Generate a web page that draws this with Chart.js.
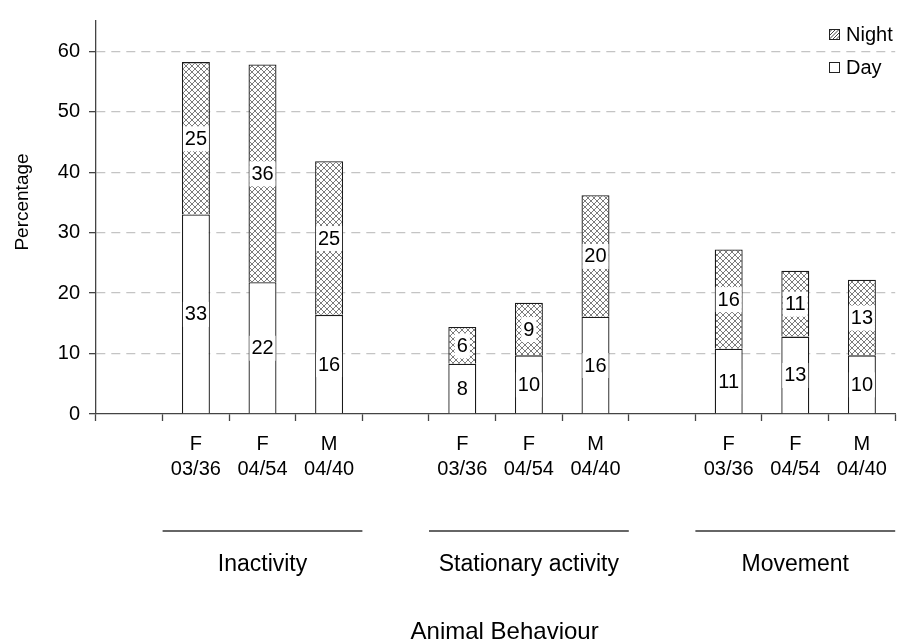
<!DOCTYPE html>
<html><head><meta charset="utf-8">
<script src="https://cdn.jsdelivr.net/npm/chart.js@4/dist/chart.umd.min.js"></script>
<style>html,body{margin:0;padding:0;background:#fff;overflow:hidden}#wrap{position:relative;width:898px;height:643px}</style>
</head><body><div id="wrap"><canvas id="c"></canvas></div>
<script>
// ---- data ----
const categories = [[''], ['F','03/36'], ['F','04/54'], ['M','04/40'], [''], ['F','03/36'], ['F','04/54'], ['M','04/40'], [''], ['F','03/36'], ['F','04/54'], ['M','04/40']];
const dayValues   = [null, 33.0, 21.8, 16.4, null, 8.3, 9.7, 16.1, null, 10.8, 12.8, 9.7];
const nightValues = [null, 25.2, 36.0, 25.4, null, 6.1, 8.7, 20.1, null, 16.4, 10.9, 12.5];
const groupNames = ['Inactivity', 'Stationary activity', 'Movement'];
const groupMembers = [[1,2,3], [5,6,7], [9,10,11]];
const yTickValues = [0, 10, 20, 30, 40, 50, 60];
const xTitle = 'Animal Behaviour';
const yTitle = 'Percentage';

const FONT = "'Liberation Sans', Arial, Helvetica, sans-serif";
Chart.defaults.font.family = FONT;
Chart.defaults.color = '#000';

function makePattern() {
  const t = document.createElement('canvas');
  t.width = 6; t.height = 6;
  const g = t.getContext('2d');
  g.fillStyle = '#ffffff'; g.fillRect(0, 0, 6, 6);
  g.fillStyle = '#7c7c7c';
  for (let i = 0; i < 6; i++) { g.fillRect(i, i, 1, 1); g.fillRect(5 - i, i, 1, 1); }
  return g.createPattern(t, 'repeat');
}
const nightFill = makePattern();

const labelPlugin = {
  id: 'segLabels',
  afterDatasetsDraw(chart) {
    const ctx = chart.ctx;
    ctx.save();
    ctx.font = '20px ' + FONT;
    ctx.textAlign = 'center';
    ctx.textBaseline = 'middle';
    chart.data.datasets.forEach((ds, di) => {
      const meta = chart.getDatasetMeta(di);
      meta.data.forEach((el, i) => {
        const v = ds.data[i];
        if (v === null || v === undefined) return;
        const txt = String(Math.round(v));
        const cy = (el.y + el.base) / 2;
        const w = Math.min(ctx.measureText(txt).width + 4, el.width - 2);
        ctx.fillStyle = '#fff';
        ctx.fillRect(el.x - w / 2, cy - 12, w, 25);
        ctx.fillStyle = '#000';
        ctx.fillText(txt, el.x, cy + 1);
      });
    });
    ctx.restore();
  }
};

const annoPlugin = {
  id: 'annos',
  afterDraw(chart) {
    const ctx = chart.ctx;
    const xs = chart.scales.x;
    const ca = chart.chartArea;
    const catW = xs.getPixelForValue(1) - xs.getPixelForValue(0);
    ctx.save();
    // group lines and labels
    groupMembers.forEach((m, gi) => {
      const cx = xs.getPixelForValue(m[1]);
      ctx.strokeStyle = '#333';
      ctx.lineWidth = 1.5;
      ctx.beginPath();
      ctx.moveTo(cx - 1.5 * catW, 531);
      ctx.lineTo(cx + 1.5 * catW, 531);
      ctx.stroke();
      ctx.fillStyle = '#000';
      ctx.font = '23px ' + FONT;
      ctx.textAlign = 'center';
      ctx.textBaseline = 'middle';
      ctx.fillText(groupNames[gi], cx, 565);
    });
    // x title
    ctx.font = '24px ' + FONT;
    ctx.fillText(xTitle, (ca.left + ca.right) / 2 + 9, 632);
    // y title
    ctx.save();
    ctx.translate(23, 202);
    ctx.rotate(-Math.PI / 2);
    ctx.font = '19px ' + FONT;
    ctx.fillText(yTitle, 0, 0);
    ctx.restore();
    // legend (reverse order: Night, Day)
    const items = chart.data.datasets.slice().reverse();
    items.forEach((ds, k) => {
      const y = 34.5 + k * 33;
      const bx = 829, bs = 11;
      ctx.fillStyle = '#fff';
      ctx.fillRect(bx, y - bs / 2, bs, bs);
      if (ds.backgroundColor !== '#ffffff') {
        ctx.save();
        ctx.beginPath();
        ctx.rect(bx, y - bs / 2, bs, bs);
        ctx.clip();
        ctx.strokeStyle = '#444';
        ctx.lineWidth = 1;
        for (let d = -bs; d < bs * 2; d += 3.5) {
          ctx.beginPath();
          ctx.moveTo(bx + d, y + bs / 2);
          ctx.lineTo(bx + d + bs, y - bs / 2);
          ctx.stroke();
        }
        ctx.restore();
      }
      ctx.strokeStyle = '#222';
      ctx.lineWidth = 1;
      ctx.strokeRect(bx + 0.5, y - bs / 2 + 0.5, bs - 1, bs - 1);
      ctx.fillStyle = '#000';
      ctx.font = '20px ' + FONT;
      ctx.textAlign = 'left';
      ctx.textBaseline = 'middle';
      ctx.fillText(ds.label, 846, y + 1);
    });
    ctx.restore();
  }
};

new Chart(document.getElementById('c'), {
  type: 'bar',
  data: {
    labels: categories,
    datasets: [
      { label: 'Day', data: dayValues, backgroundColor: '#ffffff', borderColor: '#1a1a1a', borderWidth: 1.3, stack: 's' },
      { label: 'Night', data: nightValues, backgroundColor: nightFill, borderColor: '#1a1a1a', borderWidth: 1.3, stack: 's' }
    ]
  },
  options: {
    responsive: true,
    maintainAspectRatio: false,
    animation: false,
    barPercentage: 0.42,
    categoryPercentage: 1,
    layout: { padding: { top: 14, right: 2, left: 0, bottom: 0 } },
    plugins: { legend: { display: false }, tooltip: { enabled: false } },
    scales: {
      x: {
        stacked: true,
        offset: true,
        grid: { offset: true, drawOnChartArea: false, drawTicks: true, tickLength: 7, tickColor: '#444', tickWidth: 1.3 },
        border: { color: '#444', width: 1.3 },
        ticks: { color: '#000', font: { size: 20, lineHeight: 1.25 }, padding: 11, maxRotation: 0, minRotation: 0, autoSkip: false },
        afterFit: s => { s.height = 229; }
      },
      y: {
        stacked: true,
        min: 0,
        max: 65,
        ticks: { stepSize: 10, color: '#000', font: { size: 20 }, padding: 9 },
        afterBuildTicks: s => { s.ticks = yTickValues.map(v => ({ value: v })); },
        grid: {
          color: c => (c.tick && c.tick.value === 0) ? 'rgba(0,0,0,0)' : '#c4c4c4',
          lineWidth: 1.3,
          tickColor: '#444',
          tickLength: 7,
          tickWidth: 1.3,
          tickBorderDash: []
        },
        border: { color: '#444', width: 1.3, dash: [9, 6] },
        afterFit: s => { s.width = 96; }
      }
    }
  },
  plugins: [labelPlugin, annoPlugin]
});
</script>
</body></html>
